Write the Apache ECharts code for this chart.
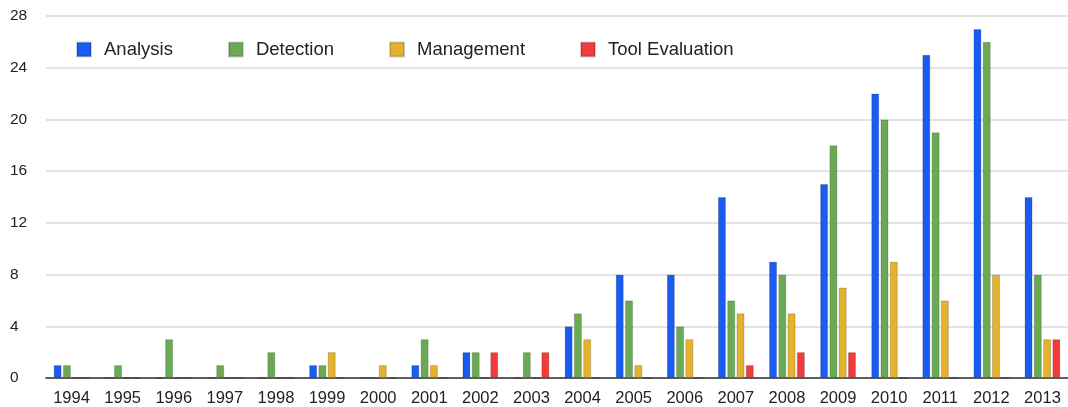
<!DOCTYPE html>
<html>
<head>
<meta charset="utf-8">
<script src="https://cdn.jsdelivr.net/npm/echarts@6/dist/echarts.min.js"></script>
<style>html,body{margin:0;padding:0;background:#fff}#c{width:1068px;height:407px}</style>
</head>
<body>
<div id="c"></div>
<script>
const years = ['1994','1995','1996','1997','1998','1999','2000','2001','2002','2003','2004','2005','2006','2007','2008','2009','2010','2011','2012','2013'];
const analysis = [1,0,0,0,0,1,0,1,2,0,4,8,8,14,9,15,22,25,27,14];
const detection = [1,1,3,1,2,1,0,3,2,2,5,6,4,6,8,18,20,19,26,8];
const management = [0,0,0,0,0,2,1,1,0,0,3,1,3,5,5,7,9,6,8,3];
const toolEvaluation = [0,0,0,0,0,0,0,0,2,2,0,0,0,1,2,2,0,0,0,3];
const seriesNames = ['Analysis','Detection','Management','Tool Evaluation'];
const colors = ['#1a5cf2','#6aaa55','#e4b22c','#f23b3b'];

const chart = echarts.init(document.getElementById('c'));
const dataArr = [analysis, detection, management, toolEvaluation];
chart.setOption({
  animation: false,
  textStyle: {fontFamily: 'Liberation Sans, Arial, sans-serif'},
  legend: {
    left: 76, top: 40, padding: 0,
    itemWidth: 14, itemHeight: 14, itemGap: 55,
    icon: 'rect',
    textStyle: {fontSize: 18.5, color: '#222', padding: [0,0,0,8]},
    data: seriesNames
  },
  grid: {left: 46, right: -10, top: 16, bottom: 29},
  xAxis: {
    type: 'category', data: years,
    axisLine: {lineStyle: {color: '#333', width: 1.5}},
    axisTick: {show: false},
    axisLabel: {fontSize: 16.5, color: '#222', margin: 12, interval: 0}
  },
  yAxis: {
    type: 'value', min: 0, max: 28, interval: 4,
    axisLine: {show: false}, axisTick: {show: false},
    splitLine: {lineStyle: {color: '#e3e3e3', width: 2}},
    axisLabel: {fontSize: 15.5, color: '#222', align: 'left', margin: 36}
  },
  series: dataArr.map((d, i) => ({
    name: seriesNames[i], type: 'bar', data: d,
    barWidth: 8, barGap: '16%',
    itemStyle: {color: colors[i], borderColor: 'rgba(0,0,0,0.18)', borderWidth: 1}
  }))
});
</script>
</body>
</html>
